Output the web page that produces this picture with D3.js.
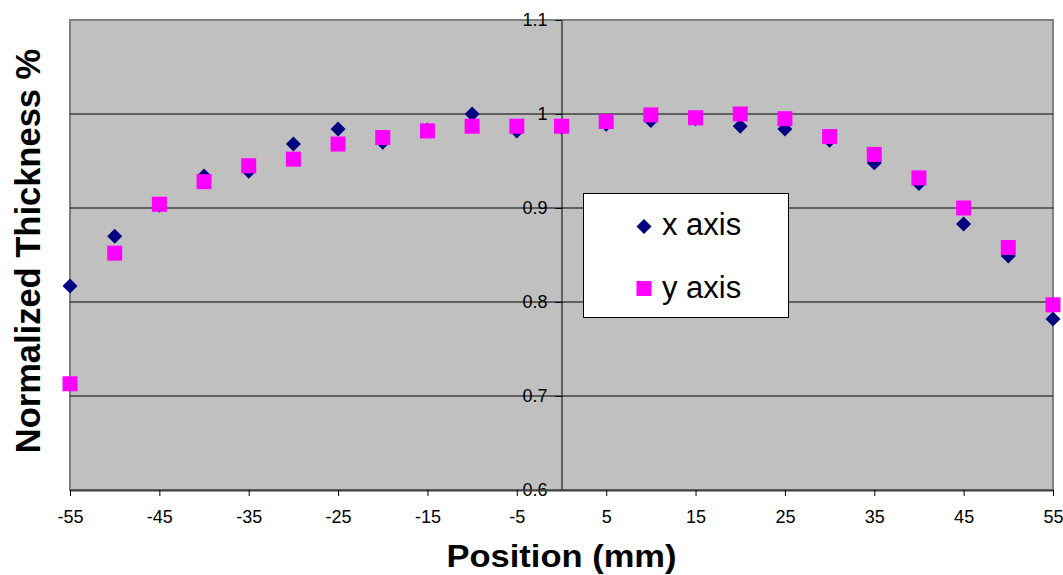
<!DOCTYPE html>
<html>
<head>
<meta charset="utf-8">
<script src="https://cdn.jsdelivr.net/npm/d3@7"></script>
<style>
  body { margin: 0; background: #fff; }
  text { font-family: "Liberation Sans", Arial, sans-serif; }
</style>
</head>
<body>
<svg id="chart" width="1063" height="575"></svg>
<script>
// positions along the wafer (mm)
var positions = [-55, -50, -45, -40, -35, -30, -25, -20, -15, -10, -5, 0, 5, 10, 15, 20, 25, 30, 35, 40, 45, 50, 55];
var xAxisVals = [0.817, 0.870, 0.903, 0.934, 0.939, 0.968, 0.984, 0.970, 0.983, 1.000, 0.982, 0.986,
                 0.989, 0.993, 0.995, 0.987, 0.984, 0.972, 0.948, 0.926, 0.883, 0.849, 0.782];
var yAxisVals = [0.713, 0.852, 0.904, 0.928, 0.945, 0.952, 0.968, 0.975, 0.982, 0.987, 0.987, 0.987,
                 0.992, 0.999, 0.996, 1.000, 0.995, 0.976, 0.957, 0.932, 0.900, 0.858, 0.797];
var xTicks = [-55, -45, -35, -25, -15, -5, 5, 15, 25, 35, 45, 55];
var yTicks = [0.6, 0.7, 0.8, 0.9, 1.0, 1.1];
var yTickLabels = ["0.6", "0.7", "0.8", "0.9", "1", "1.1"];
var seriesNames = ["x axis", "y axis"];

// plot area edges (note: "top" is reserved on window, so use other names)
var plotLeft = 70, plotRight = 1053, plotTop = 20, plotBottom = 490;

var svg = d3.select("#chart");

var x = d3.scaleLinear().domain([-55, 55]).range([plotLeft, plotRight]);
var y = d3.scaleLinear().domain([0.6, 1.1]).range([plotBottom, plotTop]);

// plot background
svg.append("rect")
    .attr("x", plotLeft).attr("y", plotTop)
    .attr("width", plotRight - plotLeft).attr("height", plotBottom - plotTop)
    .attr("fill", "#c0c0c0")
    .attr("stroke", "#808080").attr("stroke-width", 2);

// gridlines
svg.append("g").selectAll("line")
    .data(yTicks.slice(1, -1))
    .enter().append("line")
    .attr("x1", plotLeft).attr("x2", plotRight)
    .attr("y1", d => y(d)).attr("y2", d => y(d))
    .attr("stroke", "#000").attr("stroke-width", 1);

// y axis crossing at x = 0
var yAxis = svg.append("g")
    .attr("transform", "translate(" + x(0) + ",0)")
    .call(d3.axisLeft(y).tickValues(yTicks).tickSize(6).tickSizeOuter(0).tickPadding(8)
        .tickFormat((d, i) => yTickLabels[i]));
yAxis.select(".domain").attr("stroke", "#000");
yAxis.selectAll("text").attr("font-size", 18).attr("fill", "#000")
    .style("font-family", "'Liberation Sans', Arial, sans-serif");

// x axis at bottom
var xAxis = svg.append("g")
    .attr("transform", "translate(0," + plotBottom + ")")
    .call(d3.axisBottom(x).tickValues(xTicks).tickSize(6).tickSizeOuter(0).tickPadding(14)
        .tickFormat(d => d));
xAxis.select(".domain").attr("stroke", "#404040").attr("stroke-width", 2);
xAxis.selectAll("text").attr("font-size", 18).attr("fill", "#000")
    .style("font-family", "'Liberation Sans', Arial, sans-serif");

var diamond = d3.symbol().type(d3.symbolSquare).size(112);
var square = d3.symbol().type(d3.symbolSquare).size(225);

// x axis series (diamonds)
svg.append("g").selectAll("path")
    .data(positions)
    .enter().append("path")
    .attr("d", diamond)
    .attr("transform", (d, i) => "translate(" + x(d) + "," + y(xAxisVals[i]) + ") rotate(45)")
    .attr("fill", "#000080");

// y axis series (squares)
svg.append("g").selectAll("path")
    .data(positions)
    .enter().append("path")
    .attr("d", square)
    .attr("transform", (d, i) => "translate(" + x(d) + "," + y(yAxisVals[i]) + ")")
    .attr("fill", "#ff00ff");

// legend
var legend = svg.append("g");
legend.append("rect")
    .attr("x", 583.5).attr("y", 193.5).attr("width", 205).attr("height", 124)
    .attr("fill", "#fff").attr("stroke", "#000").attr("stroke-width", 1);
legend.append("path").attr("d", diamond)
    .attr("transform", "translate(644,226.5) rotate(45)").attr("fill", "#000080");
legend.append("path").attr("d", square)
    .attr("transform", "translate(644,288.5)").attr("fill", "#ff00ff");
legend.selectAll("text.lab")
    .data(seriesNames)
    .enter().append("text")
    .attr("class", "lab")
    .attr("x", 662)
    .attr("y", (d, i) => i === 0 ? 235 : 298)
    .attr("font-size", 31)
    .text(d => d);

// axis titles
svg.append("text")
    .attr("x", 561.5).attr("y", 567)
    .attr("text-anchor", "middle")
    .attr("font-size", 31).attr("font-weight", "bold")
    .attr("textLength", 230).attr("lengthAdjust", "spacingAndGlyphs")
    .text("Position (mm)");

svg.append("text")
    .attr("transform", "translate(40,251) rotate(-90)")
    .attr("text-anchor", "middle")
    .attr("font-size", 34.5).attr("font-weight", "bold")
    .text("Normalized Thickness %");
</script>
</body>
</html>
